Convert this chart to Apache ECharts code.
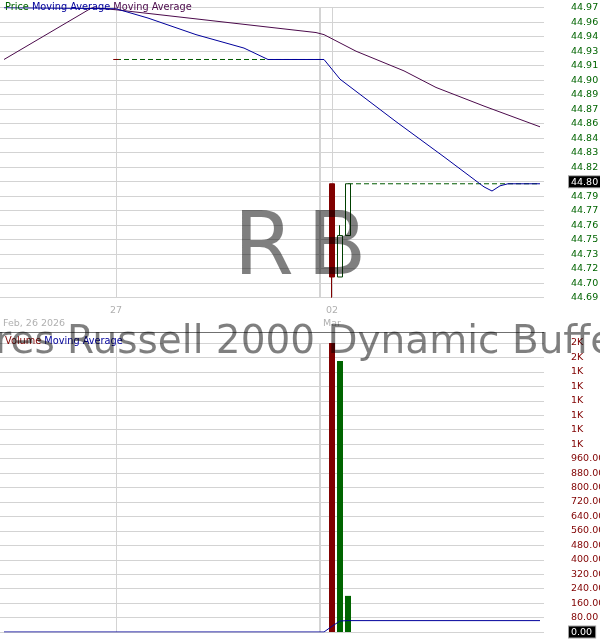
<!DOCTYPE html>
<html><head><meta charset="utf-8">
<script src="https://cdn.jsdelivr.net/npm/echarts@6/dist/echarts.min.js"></script>
<style>html,body{margin:0;padding:0;background:#fff}#c{width:600px;height:640px}</style>
</head><body><div id="c"></div>
<script>
// ---------- data ----------
const SLOT_COUNT = 68;
const xTickLabels = {14: '27', 41: '02\nMar'};
const dateCaption = 'Feb, 26 2026';
const fundName = 'iShares Russell 2000 Dynamic Buffer ETF';
const fundSymbol = 'RB';
const gridLineSlots = [14, 41];
const daySeparatorSlots = [39.5];

const candleSlots = [14, 41, 42, 43];
const candleOpen  = [44.92, 44.80, 44.71, 44.75];
const candleClose = [44.92, 44.71, 44.75, 44.80];
const candleLow   = [44.92, 44.69, 44.71, 44.75];
const candleHigh  = [44.92, 44.80, 44.76, 44.80];
const candleFlatDown = [true, false, false, false];

const volumeSlots  = [41, 42, 43];
const volumeValues = [1600, 1500, 200];
const currentVolume = 0;

const maBlue = [[0,44.970],[14,44.969],[18,44.960],[24,44.944],[30,44.931],[33,44.920],[40,44.920],[42,44.901],[49,44.860],[55,44.826],[60,44.797],[61,44.793],[62,44.798],[63,44.800],[67,44.800]];
const maPurple = [[0,44.920],[11,44.970],[14,44.968],[39,44.946],[40,44.944],[44,44.928],[50,44.909],[54,44.893],[60,44.875],[67,44.855]];
const prevClose = 44.92, prevCloseSlots = [14, 40];
const lastClose = 44.80, lastCloseSlots = [43, 67];
const volumeMA = [[0,0],[40,0],[41,32],[42,61],[43,63],[67,63]];

const PRICE_MIN = 44.69, PRICE_MAX = 44.97, PRICE_STEP = 0.014;
const VOL_MIN = 0, VOL_MAX = 1600, VOL_STEP = 80;

// ---------- build ----------
const FONT = 'DejaVu Sans';
const FS = 9.5;
const RED = '#800000', GREEN = '#004000', VGREEN = '#006400';
const off = v => +(v - PRICE_MIN).toFixed(6);
const slots = Array.from({length: SLOT_COUNT}, (_, i) => String(i));

const candleData = slots.map(() => '-');
candleSlots.forEach((s, i) => {
  const item = {value: [off(candleOpen[i]), off(candleClose[i]), off(candleLow[i]), off(candleHigh[i])]};
  if (candleFlatDown[i]) item.itemStyle = {color: RED, color0: RED, borderColor: RED, borderColor0: RED};
  candleData[s] = item;
});
const volData = slots.map(() => '-');
volumeSlots.forEach((s, i) => {
  const ci = candleSlots.indexOf(s);
  const up = ci >= 0 && candleClose[ci] >= candleOpen[ci];
  volData[s] = {value: volumeValues[i], itemStyle: {color: up ? VGREEN : RED}};
});

const chart = echarts.init(document.getElementById('c'), null, {renderer: 'canvas'});
const markV = () => ({silent: true, z: 0, symbol: ['none', 'none'], label: {show: false}, animation: false,
  data: gridLineSlots.map(s => ({xAxis: s, lineStyle: {color: '#d3d3d3', width: 1, type: 'solid'}}))
    .concat(daySeparatorSlots.map(s => ({xAxis: s, lineStyle: {color: '#d4d4d4', width: 2, type: 'solid'}})))});

const hiddenX = (g) => ({type: 'value', gridIndex: g, min: -0.5, max: SLOT_COUNT - 0.5, show: false,
  axisLine: {show: false}, axisTick: {show: false}, axisLabel: {show: false}, splitLine: {show: false}});

const option = {
  animation: false,
  backgroundColor: '#fff',
  textStyle: {fontFamily: FONT},
  grid: [
    {left: 0, top: 7.7, width: 544, height: 290, outerBoundsMode: 'none', containLabel: false},
    {left: 0, top: 343, width: 544, height: 289, outerBoundsMode: 'none', containLabel: false}
  ],
  xAxis: [
    {type: 'category', gridIndex: 0, data: slots, boundaryGap: true,
     axisLine: {show: false}, axisTick: {show: false}, splitLine: {show: false},
     axisLabel: {interval: 0, margin: 6, color: '#b0b0b0', fontSize: FS, fontFamily: FONT, lineHeight: 13.5,
       formatter: (v, i) => xTickLabels[i] || ''}},
    {type: 'category', gridIndex: 1, data: slots, boundaryGap: true,
     axisLine: {show: false}, axisTick: {show: false}, axisLabel: {show: false}, splitLine: {show: false}},
    hiddenX(0), hiddenX(1)
  ],
  yAxis: [
    {type: 'value', gridIndex: 0, position: 'right', min: 0, max: off(PRICE_MAX), interval: PRICE_STEP,
     axisLine: {show: false}, axisTick: {show: false},
     splitLine: {lineStyle: {color: '#d3d3d3'}},
     axisLabel: {align: 'left', margin: 25,
       formatter: v => { const t = (PRICE_MIN + v).toFixed(2); return t === lastClose.toFixed(2) ? '{h|' + t + '}' : '{n|' + t + '}'; },
       rich: {
         n: {color: '#006400', fontSize: FS, fontFamily: FONT, padding: [0, 0, 0, 2]},
         h: {color: '#fff', backgroundColor: '#000', borderColor: '#a0a0a0', borderWidth: 1, fontSize: FS, fontFamily: FONT, padding: [1, 3, 0, 2]}
       }}},
    {type: 'value', gridIndex: 1, position: 'right', min: VOL_MIN, max: VOL_MAX, interval: VOL_STEP,
     axisLine: {show: false}, axisTick: {show: false},
     splitLine: {lineStyle: {color: '#d3d3d3'}},
     axisLabel: {align: 'left', margin: 25,
       formatter: v => { const t = v >= 1000 ? Math.round(v / 1000) + 'K' : v.toFixed(2); return v === currentVolume ? '{h|' + t + '}' : '{n|' + t + '}'; },
       rich: {
         n: {color: RED, fontSize: FS, fontFamily: FONT, padding: [0, 0, 0, 2]},
         h: {color: '#fff', backgroundColor: '#000', borderColor: '#a0a0a0', borderWidth: 1, fontSize: FS, fontFamily: FONT, padding: [1, 3, 0, 2]}
       }}}
  ],
  series: [
    {type: 'line', xAxisIndex: 2, yAxisIndex: 0, z: 0, symbol: 'none', silent: true, data: [], markLine: markV()},
    {type: 'line', xAxisIndex: 3, yAxisIndex: 1, z: 0, symbol: 'none', silent: true, data: [], markLine: markV()},
    {type: 'line', xAxisIndex: 0, yAxisIndex: 0, z: 1, symbol: 'none', silent: true,
     data: prevCloseSlots.map(s => [s, off(prevClose)]),
     lineStyle: {color: '#005a00', width: 1, type: [5, 3]}},
    {type: 'line', xAxisIndex: 0, yAxisIndex: 0, z: 1, symbol: 'none', silent: true,
     data: lastCloseSlots.map(s => [s, off(lastClose)]),
     lineStyle: {color: '#005a00', width: 1, type: [5, 3]}},
    {type: 'candlestick', xAxisIndex: 0, yAxisIndex: 0, z: 2, barWidth: 5, data: candleData,
     itemStyle: {color: '#ffffff', color0: RED, borderColor: GREEN, borderColor0: RED, borderWidth: 1}},
    {type: 'line', xAxisIndex: 0, yAxisIndex: 0, z: 3, symbol: 'none', silent: true,
     data: maPurple.map(p => [p[0], off(p[1])]), lineStyle: {color: '#4b0a4b', width: 1}},
    {type: 'line', xAxisIndex: 0, yAxisIndex: 0, z: 3, symbol: 'none', silent: true,
     data: maBlue.map(p => [p[0], off(p[1])]), lineStyle: {color: '#00009b', width: 1}},
    {type: 'bar', xAxisIndex: 1, yAxisIndex: 1, z: 2, barWidth: 6, data: volData},
    {type: 'line', xAxisIndex: 1, yAxisIndex: 1, z: 3, symbol: 'none', silent: true,
     data: volumeMA, lineStyle: {color: '#00009b', width: 1}}
  ],
  graphic: [
    {type: 'text', x: 3, y: 324, z: 50, silent: true,
     style: {text: dateCaption, fill: '#b0b0b0', fontSize: FS, fontFamily: FONT, align: 'left', verticalAlign: 'middle'}},
    {type: 'line', z: 50, silent: true, shape: {x1: 0, y1: 332.5, x2: 544, y2: 332.5},
     style: {stroke: '#707070', lineWidth: 1}},
    {type: 'text', x: 5, y: 7, z: 60, silent: true,
     style: {text: '{g|Price} {b|Moving Average} {p|Moving Average}', fontSize: 9.75, fontFamily: FONT, align: 'left', verticalAlign: 'middle',
       rich: {g: {fill: '#006400', fontSize: 9.75, fontFamily: FONT}, b: {fill: '#00009b', fontSize: 9.75, fontFamily: FONT}, p: {fill: '#4b0a4b', fontSize: 9.75, fontFamily: FONT}}}},
    {type: 'text', x: 5, y: 341, z: 60, silent: true,
     style: {text: '{r|Volume} {b|Moving Average}', fontSize: 9.75, fontFamily: FONT, align: 'left', verticalAlign: 'middle',
       rich: {r: {fill: RED, fontSize: 9.75, fontFamily: FONT}, b: {fill: '#00009b', fontSize: 9.75, fontFamily: FONT}}}},
    {type: 'text', x: 300, y: 251, z: 100, silent: true,
     style: {text: '{a|' + fundSymbol.slice(0, 1) + '}{b|' + fundSymbol.slice(1) + '}', fill: 'rgba(0,0,0,0.5)', fontSize: 87, fontFamily: FONT, align: 'center', verticalAlign: 'middle',
       rich: {a: {fill: 'rgba(0,0,0,0.5)', fontSize: 87, fontFamily: FONT, padding: [0, 13, 0, 0]}, b: {fill: 'rgba(0,0,0,0.5)', fontSize: 87, fontFamily: FONT}}}},
    {type: 'text', x: -89, y: 343, z: 100, silent: true,
     style: {text: fundName, fill: 'rgba(0,0,0,0.5)', fontSize: 39, fontFamily: FONT, align: 'left', verticalAlign: 'middle'}}
  ]
};
chart.setOption(option);
</script></body></html>
